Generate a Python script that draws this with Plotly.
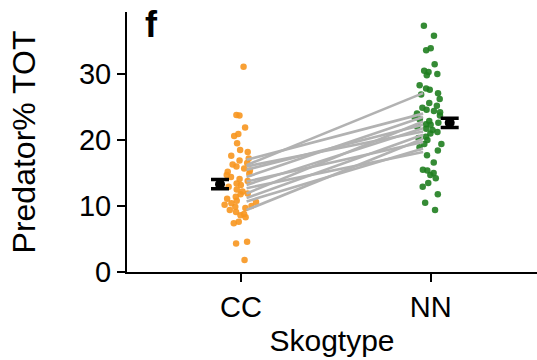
import plotly.graph_objects as go

# ---- data ----
categories = ["CC", "NN"]
cc_values = [31.1, 23.8, 23.7, 21.9, 20.9, 20.6, 19.5, 18.5, 18.2, 17.6,
             17.2, 16.9, 16.5, 16.3, 16.0, 15.7, 15.4, 15.2, 14.9, 14.7,
             14.4, 14.1, 13.8, 13.4, 13.2, 12.9, 12.5, 12.2, 11.9, 11.8,
             11.4, 11.1, 10.8, 10.6, 10.4, 10.2, 10.0, 9.9, 9.7, 9.4,
             9.1, 8.8, 8.6, 8.3, 7.6, 7.4, 4.6, 4.3, 1.8]
nn_values = [37.3, 35.8, 33.9, 33.6, 31.5, 30.5, 30.3, 30.0, 29.8, 28.3,
             27.8, 27.6, 27.1, 26.9, 26.2, 25.6, 25.2, 24.9, 24.6, 24.4,
             24.2, 24.0, 23.7, 23.4, 23.1, 22.9, 22.6, 22.4, 22.3, 22.0,
             21.7, 21.5, 21.2, 21.0, 20.5, 20.3, 20.0, 19.4, 19.4, 18.9,
             18.4, 17.7, 16.6, 15.5, 15.4, 15.0, 14.7, 14.2, 13.5, 12.9,
             11.8, 10.5, 9.4]
# paired site lines (CC value -> NN value)
pair_cc = [17.0, 16.2, 16.0, 15.5, 14.4, 13.7, 13.2, 12.7, 11.9, 11.2, 10.7, 9.4]
pair_nn = [24.0, 27.1, 21.3, 22.3, 23.5, 19.7, 21.8, 18.2, 22.8, 20.8, 18.7, 20.2]
# group means and standard errors
means = [13.3, 22.6]
ses = [0.7, 0.7]
y_ticks = [0, 10, 20, 30]

# ---- styling ----
ORANGE = "#F7961F"
GREEN = "#1F7E1F"
LINE_GRAY = "#B2B2B2"
FONT = "Liberation Sans, Arial, sans-serif"
pos = {c: i for i, c in enumerate(categories)}
line_start, line_end = 0.03, -0.04   # small offsets around category centres
mean_offset = [-0.11, 0.10]

fig = go.Figure()

# paired lines
lx, ly = [], []
for a, b in zip(pair_cc, pair_nn):
    lx += [pos["CC"] + line_start, pos["NN"] + line_end, None]
    ly += [a, b, None]
fig.add_trace(go.Scatter(x=lx, y=ly, mode="lines",
                         line=dict(color=LINE_GRAY, width=2.6),
                         showlegend=False, hoverinfo="skip"))

# jittered points (library jitter via box traces with invisible boxes)
for cat, vals, col in [("CC", cc_values, ORANGE), ("NN", nn_values, GREEN)]:
    fig.add_trace(go.Box(
        x=[pos[cat]] * len(vals), y=vals, orientation="v",
        boxpoints="all", jitter=0.9, pointpos=0, width=0.2,
        fillcolor="rgba(0,0,0,0)", line=dict(width=0, color="rgba(0,0,0,0)"),
        marker=dict(color=col, size=6.5, opacity=0.9),
        showlegend=False, hoverinfo="y"))

# means with error bars
fig.add_trace(go.Scatter(
    x=[pos[c] + o for c, o in zip(categories, mean_offset)], y=means,
    mode="markers",
    marker=dict(color="black", size=10),
    error_y=dict(type="data", array=ses, color="black", thickness=3.5, width=9),
    showlegend=False))

axis_common = dict(showline=True, linecolor="black", linewidth=2,
                   ticks="outside", ticklen=8, tickwidth=2, tickcolor="black",
                   showgrid=False, zeroline=False,
                   tickfont=dict(family=FONT, size=29, color="black"))

fig.update_layout(
    width=537, height=360,
    margin=dict(l=127, r=0, t=12, b=88),
    plot_bgcolor="white", paper_bgcolor="white",
    boxmode="overlay",
    xaxis=dict(range=[-0.6, 1.56], tickmode="array", tickvals=[0, 1],
               ticktext=categories,
               title=dict(text="Skogtype", font=dict(family=FONT, size=30, color="black"),
                          standoff=8),
               **axis_common),
    yaxis=dict(range=[0, 39.4], tickmode="array", tickvals=y_ticks,
               title=dict(text="Predator% TOT", font=dict(family=FONT, size=32, color="black"),
                          standoff=34),
               **axis_common),
    annotations=[dict(text="<b>f</b>", xref="paper", yref="paper",
                      x=0.04, y=1.04, xanchor="left", yanchor="top",
                      showarrow=False,
                      font=dict(family=FONT, size=36, color="black"))],
)

fig.write_html("out.html")
